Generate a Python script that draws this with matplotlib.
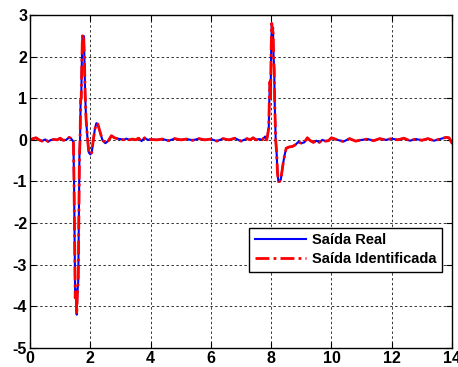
import matplotlib
matplotlib.use('Agg')
import matplotlib.pyplot as plt

# sample times (s) and outputs
t = [0.0, 0.1, 0.2, 0.3, 0.4, 0.5, 0.6, 0.7, 0.8, 0.9, 1.0, 1.1, 1.2, 1.3, 1.35, 1.4, 1.44,
     1.46, 1.48, 1.50, 1.53, 1.55, 1.57, 1.60, 1.62, 1.64, 1.66, 1.68, 1.70, 1.72, 1.74,
     1.76, 1.78, 1.80, 1.83, 1.86, 1.90, 1.95, 2.0, 2.05, 2.1, 2.15, 2.2, 2.25, 2.3, 2.4,
     2.5, 2.6, 2.7, 2.8, 2.9, 3.0, 3.1, 3.2, 3.3, 3.4, 3.5, 3.6, 3.7, 3.8, 3.9, 4.0, 4.2,
     4.4, 4.6, 4.8, 5.0, 5.2, 5.4, 5.6, 5.8, 6.0, 6.2, 6.4, 6.6, 6.8, 7.0, 7.1, 7.2, 7.3,
     7.4, 7.5, 7.6, 7.7, 7.8, 7.85, 7.88, 7.9, 7.92, 7.94, 7.96, 7.98, 8.0, 8.02, 8.04,
     8.06, 8.08, 8.10, 8.12, 8.15, 8.18, 8.21, 8.24, 8.28, 8.32, 8.36, 8.40, 8.45, 8.5,
     8.6, 8.7, 8.8, 8.9, 9.0, 9.1, 9.2, 9.3, 9.4, 9.5, 9.6, 9.7, 9.8, 9.9, 10.0, 10.2,
     10.4, 10.6, 10.8, 11.0, 11.2, 11.4, 11.6, 11.8, 12.0, 12.2, 12.4, 12.6, 12.8, 13.0,
     13.2, 13.4, 13.6, 13.8, 13.9, 14.0]
y_real = [0.0, 0.03, 0.05, 0.0, -0.03, 0.01, -0.04, 0.0, 0.01, 0.0, 0.04, -0.01, 0.0, 0.06, 0.04, 0.0, -0.05,
          -1.0, -2.4, -3.8, -3.6, -4.2, -3.7, -3.4, -2.0, -0.4, 0.0, 0.95, 1.0, 1.9, 2.5,
          2.45, 2.5, 2.1, 1.1, 0.5, 0.1, -0.3, -0.35, -0.3, 0.0, 0.25, 0.4, 0.38, 0.25, 0.0,
          -0.08, -0.02, 0.1, 0.05, 0.03, 0.02, 0.0, 0.03, 0.0, 0.02, 0.0, 0.04, -0.03, 0.05, 0.0, 0.01, 0.0,
          0.02, -0.02, 0.03, 0.0, 0.02, -0.01, 0.03, 0.0, 0.02, -0.03, 0.03, 0.0, 0.04, -0.03, 0.0, 0.03, 0.0,
          0.05, 0.0, 0.02, 0.0, 0.08, 0.0, 0.1, 0.2, 0.3, 1.0, 1.4, 1.0, 2.2, 2.8, 2.6,
          2.7, 2.0, 1.7, 0.8, 0.0, -0.3, -0.8, -1.0, -1.0, -0.95, -0.75, -0.55, -0.35, -0.2,
          -0.17, -0.16, -0.12, -0.05, -0.08, -0.06, 0.05, -0.02, -0.06, -0.02, -0.06, 0.0, -0.03, -0.02, 0.05, 0.0,
          -0.04, 0.03, -0.03, 0.0, 0.02, -0.02, 0.03, 0.0, 0.03, 0.0, 0.04, -0.02, 0.02, -0.01,
          0.03, -0.02, 0.02, 0.06, 0.05, -0.08]
y_ident = list(y_real)

labels = ['Saída Real', 'Saída Identificada']

plt.rcParams['font.family'] = ['Liberation Sans', 'DejaVu Sans']
plt.rcParams['font.weight'] = 'bold'
plt.rcParams['axes.unicode_minus'] = False

fig = plt.figure(figsize=(4.58, 3.67), dpi=100)
ax = fig.add_axes([0.0655, 0.052, 0.9215, 0.907])

ax.plot(t, y_real, color='blue', lw=1.5, label=labels[0])
ax.plot(t, y_ident, color='red', lw=2, ls=(0, (5, 1.5, 1, 1.5)), label=labels[1])

ax.set_xlim(0, 14)
ax.set_ylim(-5, 3)
ax.set_xticks(range(0, 15, 2))
ax.set_yticks(range(-5, 4))
ax.grid(True, color='#333333', ls=(0, (2.5, 2.5)), lw=0.7)
ax.tick_params(direction='in', length=4, labelsize=11.5, top=True, right=True, pad=2)
for s in ax.spines.values():
    s.set_linewidth(1)

leg = ax.legend(loc='lower right', bbox_to_anchor=(0.976, 0.229), fancybox=False,
                edgecolor='black', framealpha=1, fontsize=10.5, handlelength=3.5,
                borderpad=0.4, labelspacing=0.3, handletextpad=0.4,
                borderaxespad=0)
leg.get_frame().set_linewidth(1)

fig.savefig('out.png', dpi=100)
